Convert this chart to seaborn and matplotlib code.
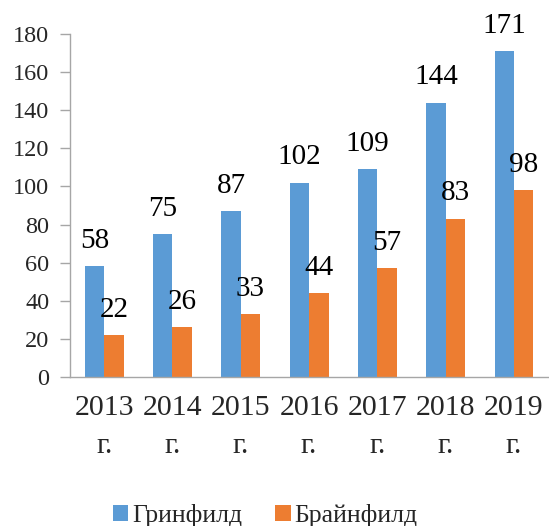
import matplotlib
matplotlib.use("Agg")
import matplotlib.pyplot as plt
import seaborn as sns
import pandas as pd

years = ["2013", "2014", "2015", "2016", "2017", "2018", "2019"]
tick_labels = [y + "\nг." for y in years]
series_names = ["Гринфилд", "Брайнфилд"]
greenfield = [58, 75, 87, 102, 109, 144, 171]
brainfield = [22, 26, 33, 44, 57, 83, 98]
colors = ["#5B9BD5", "#ED7D31"]

df = pd.DataFrame({
    "year": years * 2,
    "value": greenfield + brainfield,
    "series": [series_names[0]] * len(years) + [series_names[1]] * len(years),
})

sns.set_theme(style="white")
plt.rcParams["font.family"] = ["Liberation Serif", "DejaVu Serif"]

fig = plt.figure(figsize=(5.49, 5.26), dpi=100)
ax = fig.add_axes([0.1275, 0.2833, 0.871, 0.6521])

sns.barplot(data=df, x="year", y="value", hue="series", palette=colors,
            width=0.57, saturation=1, linewidth=0, ax=ax, legend=True)

for c in ax.containers:
    ax.bar_label(c, padding=9, fontsize=21, color="black")

ax.set_ylim(0, 180)
ax.set_yticks(range(0, 181, 20))
ax.set_xlim(-0.5, len(years) - 0.5)
ax.set_xticks(range(len(years)))
ax.set_xticklabels(tick_labels, fontsize=21.5, linespacing=1.6)
ax.set_xticks([i - 0.5 for i in range(len(years) + 1)], minor=True)
ax.tick_params(axis="x", which="major", length=0, pad=13)
ax.tick_params(axis="x", which="minor", length=7, color="#A6A6A6", width=1, direction="out")
ax.tick_params(axis="y", length=7, color="#A6A6A6", width=1, direction="out", labelsize=17.5, pad=8)
ax.tick_params(axis="both", bottom=True, left=True)
ax.set_xlabel("")
ax.set_ylabel("")
for s in ["top", "right"]:
    ax.spines[s].set_visible(False)
for s in ["left", "bottom"]:
    ax.spines[s].set_color("#A6A6A6")
    ax.spines[s].set_linewidth(1)

leg = ax.legend(loc="center", bbox_to_anchor=(0.483, 0.02), bbox_transform=fig.transFigure,
                ncol=2, frameon=False, fontsize=18.5, handlelength=0.6, handleheight=0.6,
                handletextpad=0.15, columnspacing=1.3)

fig.savefig("out.png", dpi=100)
